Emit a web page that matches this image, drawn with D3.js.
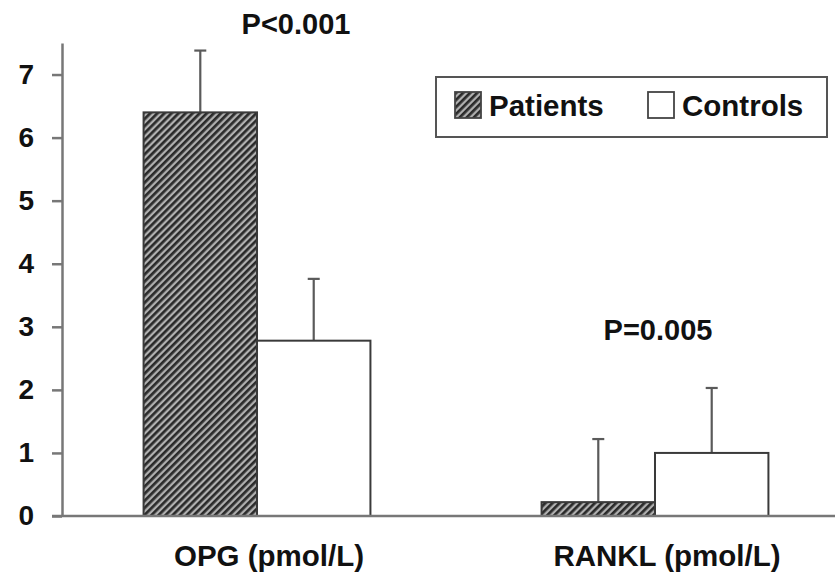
<!DOCTYPE html>
<html>
<head>
<meta charset="utf-8">
<script src="https://cdn.jsdelivr.net/npm/d3@7"></script>
<style>
  body { margin: 0; background: #fff; }
  text { font-family: "Liberation Sans", Arial, sans-serif; font-weight: bold; fill: #111; }
</style>
</head>
<body>
<div id="chart"></div>
<script>
// values
var groups = ["OPG (pmol/L)", "RANKL (pmol/L)"];
var series = ["Patients", "Controls"];
var patientMeans = [6.4, 0.22];
var patientSD = [0.98, 1.0];
var controlMeans = [2.78, 1.0];
var controlSD = [0.98, 1.03];
var pLabels = ["P<0.001", "P=0.005"];
var yTicks = [0, 1, 2, 3, 4, 5, 6, 7];

function init(){
    var w = 835;
    var h = 573;

    var svg = d3.select("#chart")
                .append("svg")
                .attr("width", w)
                .attr("height", h);

    // hatch fill for patients
    var defs = svg.append("defs");
    var pat = defs.append("pattern")
                .attr("id", "hatch")
                .attr("patternUnits", "userSpaceOnUse")
                .attr("width", 5)
                .attr("height", 5)
                .attr("patternTransform", "rotate(45)");
    pat.append("rect").attr("width", 5).attr("height", 5).attr("fill", "#b0b0b0");
    pat.append("rect").attr("width", 2.7).attr("height", 5).attr("fill", "#2a2a2a");

    var x = d3.scaleBand()
                .domain(groups)
                .range([60, 852])
                .paddingInner(0.43)
                .paddingOuter(0.21);

    var xs = d3.scaleBand()
                .domain(series)
                .range([0, x.bandwidth()]);

    var y = d3.scaleLinear()
                .domain([0, 7.5])
                .range([516, 43]);

    var rows = [];
    for (var i = 0; i < groups.length; i++){
        rows.push({g: groups[i], s: "Patients", v: patientMeans[i], sd: patientSD[i]});
        rows.push({g: groups[i], s: "Controls", v: controlMeans[i], sd: controlSD[i]});
    }

    // error bars (drawn first so bar outline covers the base)
    var eb = svg.selectAll(".err")
                .data(rows)
                .enter()
                .append("g")
                .attr("class", "err")
                .attr("stroke", "#5a5a5a")
                .attr("stroke-width", 2.2);
    eb.append("line")
        .attr("x1", function(d){ return x(d.g) + xs(d.s) + xs.bandwidth()/2; })
        .attr("x2", function(d){ return x(d.g) + xs(d.s) + xs.bandwidth()/2; })
        .attr("y1", function(d){ return y(d.v); })
        .attr("y2", function(d){ return y(d.v + d.sd); });
    eb.append("line")
        .attr("x1", function(d){ return x(d.g) + xs(d.s) + xs.bandwidth()/2 - 6; })
        .attr("x2", function(d){ return x(d.g) + xs(d.s) + xs.bandwidth()/2 + 6; })
        .attr("y1", function(d){ return y(d.v + d.sd); })
        .attr("y2", function(d){ return y(d.v + d.sd); });

    svg.selectAll(".bar")
        .data(rows)
        .enter()
        .append("rect")
        .attr("class", "bar")
        .attr("x", function(d){ return x(d.g) + xs(d.s); })
        .attr("y", function(d){ return y(d.v); })
        .attr("width", xs.bandwidth())
        .attr("height", function(d){ return y(0) - y(d.v); })
        .attr("fill", function(d){ return d.s == "Patients" ? "url(#hatch)" : "#fff"; })
        .attr("stroke", "#3a3a3a")
        .attr("stroke-width", 2);

    // y axis
    var yAxis = d3.axisLeft(y)
                .tickValues(yTicks)
                .tickSize(10)
                .tickSizeOuter(0)
                .tickPadding(18)
                .tickFormat(d3.format("d"));
    var ga = svg.append("g")
                .attr("transform", "translate(62,0)")
                .call(yAxis);
    ga.select(".domain").attr("stroke", "#777").attr("stroke-width", 2.5);
    ga.selectAll(".tick line").attr("stroke", "#777").attr("stroke-width", 2.5);
    ga.selectAll(".tick text")
        .attr("font-size", 28)
        .attr("font-family", "Liberation Sans, Arial, sans-serif")
        .attr("font-weight", "bold")
        .attr("fill", "#111");

    // baseline
    svg.append("line")
        .attr("x1", 52).attr("x2", w)
        .attr("y1", y(0)).attr("y2", y(0))
        .attr("stroke", "#777")
        .attr("stroke-width", 2.5);

    // category labels
    svg.selectAll(".cat")
        .data(groups)
        .enter()
        .append("text")
        .attr("class", "cat")
        .attr("x", function(d){ return x(d) + x.bandwidth()/2 + 12; })
        .attr("y", 566)
        .attr("text-anchor", "middle")
        .attr("font-size", 29.5)
        .text(function(d){ return d; });

    // p values
    svg.selectAll(".pval")
        .data(groups)
        .enter()
        .append("text")
        .attr("class", "pval")
        .attr("x", function(d, i){ return x(d) + x.bandwidth()/2 + (i == 0 ? 39 : 3); })
        .attr("y", function(d, i){ return i == 0 ? 34 : 340; })
        .attr("text-anchor", "middle")
        .attr("font-size", 29)
        .text(function(d, i){ return pLabels[i]; });

    // legend
    var lg = svg.append("g");
    lg.append("rect")
        .attr("x", 436).attr("y", 77)
        .attr("width", 391).attr("height", 60)
        .attr("fill", "#fff")
        .attr("stroke", "#555")
        .attr("stroke-width", 2);
    var items = lg.selectAll(".li")
        .data(series)
        .enter()
        .append("g")
        .attr("transform", function(d, i){ return "translate(" + (i == 0 ? 455 : 648) + ",92)"; });
    items.append("rect")
        .attr("width", 26).attr("height", 26)
        .attr("fill", function(d){ return d == "Patients" ? "url(#hatch)" : "#fff"; })
        .attr("stroke", "#444")
        .attr("stroke-width", 1.8);
    items.append("text")
        .attr("x", 34)
        .attr("y", 24)
        .attr("font-size", 29.5)
        .text(function(d){ return d; });
}
window.onload = init;
</script>
</body>
</html>
